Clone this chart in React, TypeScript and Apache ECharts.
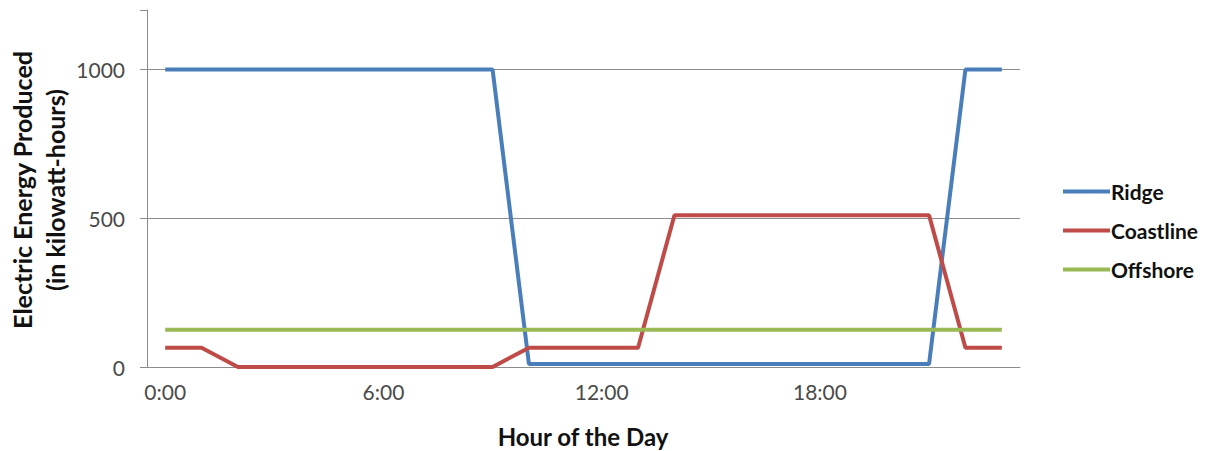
import React, { useEffect, useRef } from "react";
import * as echarts from "echarts";

// Hourly categories 0:00 .. 23:00
const hours: string[] = [
  "0:00", "1:00", "2:00", "3:00", "4:00", "5:00", "6:00", "7:00",
  "8:00", "9:00", "10:00", "11:00", "12:00", "13:00", "14:00", "15:00",
  "16:00", "17:00", "18:00", "19:00", "20:00", "21:00", "22:00", "23:00",
];

// Energy produced per hour (kWh)
const ridge: number[] = [
  1000, 1000, 1000, 1000, 1000, 1000, 1000, 1000, 1000, 1000,
  10, 10, 10, 10, 10, 10, 10, 10, 10, 10, 10, 10,
  1000, 1000,
];
const coastline: number[] = [
  65, 65, 0, 0, 0, 0, 0, 0, 0, 0,
  65, 65, 65, 65,
  510, 510, 510, 510, 510, 510, 510, 510,
  65, 65,
];
const offshore: number[] = [
  125, 125, 125, 125, 125, 125, 125, 125, 125, 125, 125, 125,
  125, 125, 125, 125, 125, 125, 125, 125, 125, 125, 125, 125,
];

const yTicks: number[] = [0, 500, 1000];
const xLabelEvery = 6;

const FONT = "Lato, 'Open Sans', sans-serif";
const GRID = "#8c8c8c";
const HIDDEN = "rgba(0,0,0,0)";

export default function App() {
  const ref = useRef<HTMLDivElement>(null);

  useEffect(() => {
    if (!ref.current) return;
    const chart = echarts.init(ref.current, undefined, { renderer: "svg" });

    const line = (name: string, data: number[], color: string) => ({
      name,
      type: "line",
      data,
      symbol: "none",
      showSymbol: false,
      lineStyle: { color, width: 4 },
      itemStyle: { color },
      emphasis: { disabled: true },
    });

    chart.setOption({
      animation: false,
      backgroundColor: "#ffffff",
      textStyle: { fontFamily: FONT },
      grid: { left: 147, right: 188, top: 10, bottom: 84, containLabel: false },
      xAxis: {
        type: "category",
        data: hours,
        boundaryGap: true,
        axisLine: { show: true, lineStyle: { color: GRID, width: 1 } },
        axisTick: { show: false },
        axisLabel: {
          interval: (i: number) => i % xLabelEvery === 0,
          color: "#4a4a4a",
          fontSize: 21,
          fontFamily: FONT,
          margin: 14,
        },
        splitLine: { show: false },
      },
      yAxis: {
        type: "value",
        min: 0,
        max: 1200,
        interval: 500,
        axisLine: { show: true, lineStyle: { color: GRID, width: 1 } },
        axisTick: {
          show: true,
          length: 7,
          lineStyle: { color: GRID, width: 1 },
        },
        axisLabel: {
          customValues: yTicks,
          formatter: (v: number) => String(v),
          color: "#4a4a4a",
          fontSize: 21,
          fontFamily: FONT,
          margin: 22,
        },
        splitLine: {
          show: true,
          lineStyle: { color: [GRID, GRID, GRID, HIDDEN], width: 1 },
        },
      },
      legend: {
        orient: "vertical",
        left: 1058,
        top: 176,
        icon: "rect",
        itemWidth: 47,
        itemHeight: 4,
        itemGap: 18,
        textStyle: {
          fontFamily: FONT,
          fontSize: 21,
          fontWeight: "bold",
          color: "#111111",
          padding: [0, 0, 0, -4],
        },
        data: ["Ridge", "Coastline", "Offshore"],
      },
      graphic: [
        {
          type: "text",
          x: 38,
          y: 190,
          rotation: Math.PI / 2,
          style: {
            text: "Electric Energy Produced\n(in kilowatt-hours)",
            align: "center",
            verticalAlign: "middle",
            lineHeight: 33,
            font: `bold 25px ${FONT}`,
            fill: "#111111",
          },
        },
        {
          type: "text",
          x: 583,
          y: 436,
          style: {
            text: "Hour of the Day",
            align: "center",
            verticalAlign: "middle",
            font: `bold 24px ${FONT}`,
            fill: "#111111",
          },
        },
      ],
      series: [
        line("Ridge", ridge, "#4a7ebb"),
        line("Coastline", coastline, "#be4b48"),
        line("Offshore", offshore, "#98b954"),
      ],
    });

    return () => chart.dispose();
  }, []);

  return (
    <div
      ref={ref}
      style={{ position: "fixed", left: 0, top: 0, width: 1208, height: 451, background: "#fff" }}
    />
  );
}
